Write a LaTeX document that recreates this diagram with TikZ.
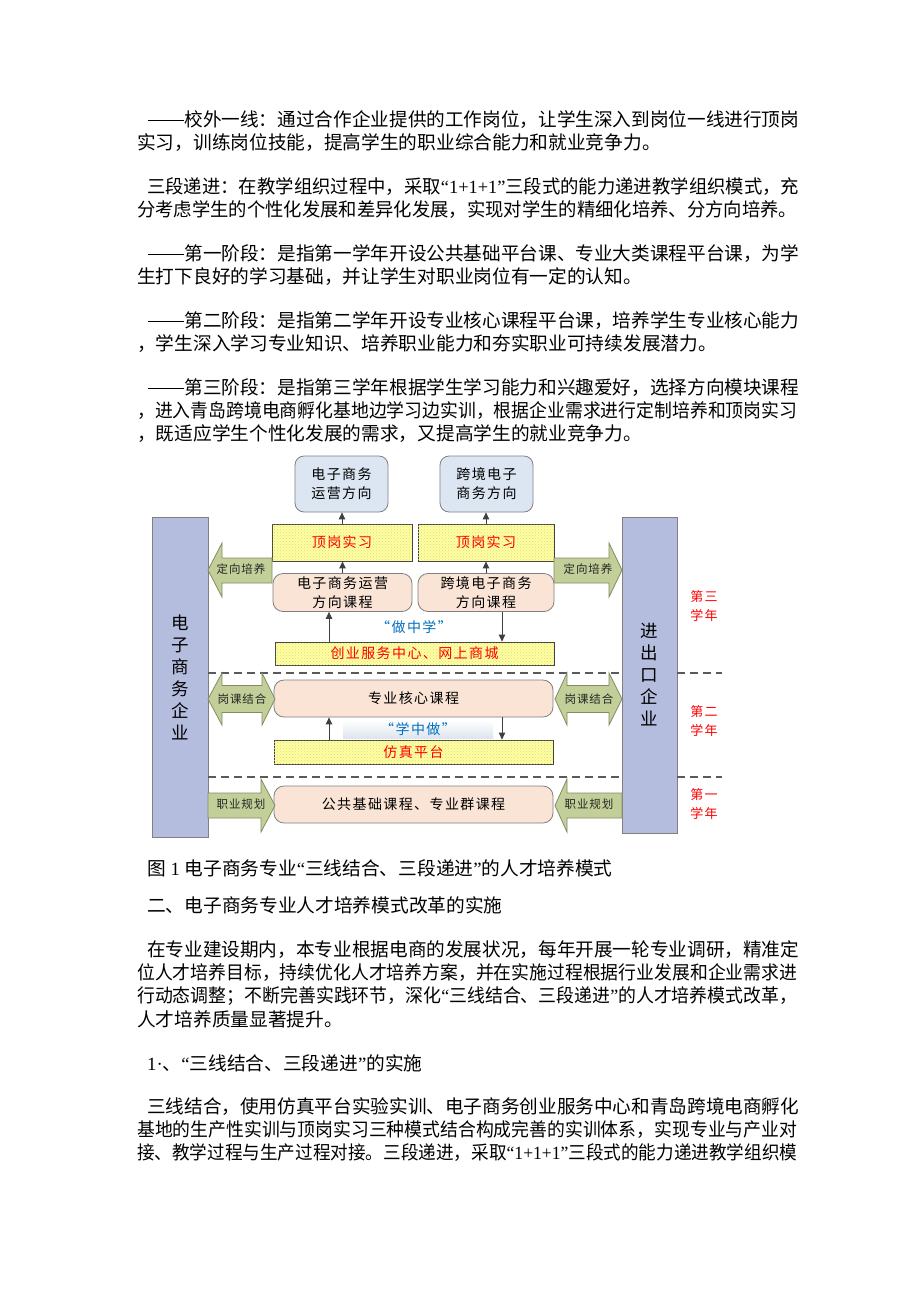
\documentclass[tikz,border=0pt]{standalone}
\usepackage{graphicx}
\usepackage{fontspec}
\setmainfont{Noto Sans CJK SC}
\newfontfamily\lat{Liberation Serif}
\newfontfamily\dg[LetterSpace=10]{Noto Sans CJK SC}
\newfontfamily\dgs[LetterSpace=8]{Noto Sans CJK SC}
\usetikzlibrary{patterns,arrows.meta,calc}
\newcommand\jline[2]{\resizebox{#1pt}{\height}{#2}}
\newcommand\dd{\makebox[2em][c]{\rule[0.34em]{1.92em}{0.05em}}}
\definecolor{bord}{RGB}{128,128,128}
\definecolor{topblue}{RGB}{220,230,242}
\definecolor{yel}{RGB}{255,255,160}
\definecolor{yeldot}{RGB}{218,218,140}
\definecolor{peachc}{RGB}{250,228,214}
\definecolor{colc}{RGB}{181,189,222}
\definecolor{gfill}{RGB}{195,207,152}
\definecolor{gbord}{RGB}{130,140,100}
\definecolor{arrc}{RGB}{64,64,64}
\definecolor{dashc}{RGB}{90,90,90}
\definecolor{bluet}{RGB}{0,112,192}
\definecolor{redt}{RGB}{255,0,0}
\definecolor{xzlo}{RGB}{222,229,238}
\begin{document}
\begin{tikzpicture}[x=1pt,y=-1pt,
  txt/.style={anchor=west, inner sep=0pt, font=\fontsize{18.7}{19}\selectfont},
  topbox/.style={draw=bord, line width=0.8pt, fill=topblue, rounded corners=9pt, minimum width=93pt, minimum height=56pt, inner sep=0pt, align=center, font=\fontsize{14}{19}\selectfont\dg},
  yelbox/.style={draw=arrc, line width=0.8pt, fill=yel, postaction={pattern=crosshatch dots, pattern color=yeldot}, inner sep=0pt, text=redt, font=\fontsize{14}{18}\selectfont\dg},
  peach/.style={draw=bord, line width=0.8pt, fill=peachc, rounded corners=10pt, inner sep=0pt, align=center, font=\fontsize{14}{19}\selectfont\dg},
  colbox/.style={draw=bord, line width=0.9pt, fill=colc, inner sep=0pt, align=center, font=\fontsize{17.5}{22}\selectfont},
  garrow/.style={draw=gbord, line width=0.8pt, fill=gfill, line join=miter},
  glab/.style={inner sep=0pt, font=\fontsize{11.5}{11.5}\selectfont\dgs, text=black!85},
  yr/.style={inner sep=0pt, align=center, text=redt, font=\fontsize{13}{19}\selectfont\dg},
  conn/.style={draw=arrc, line width=0.9pt, -{Triangle[length=7pt,width=6.5pt]}},
  dashln/.style={draw=dashc, line width=1.1pt, dash pattern=on 8pt off 5pt}
]
\useasboundingbox (0,0) rectangle (920,1302);
\fill[white] (0,0) rectangle (920,1302);

% ---------- body text, top ----------
\node[txt] (p1a) at (147,120) {\jline{652}{\dd 校外一线：通过合作企业提供的工作岗位，让学生深入到岗位一线进行顶岗}};
\node[txt] (p1b) at (137,143) {实习，训练岗位技能，提高学生的职业综合能力和就业竞争力。};
\node[txt] (p2a) at (147,187) {\jline{652}{三段递进：在教学组织过程中，采取{\lat “1+1+1”}三段式的能力递进教学组织模式，充}};
\node[txt] (p2b) at (137,210) {\jline{660}{分考虑学生的个性化发展和差异化发展，实现对学生的精细化培养、分方向培养。}};
\node[txt] (p3a) at (147,254) {\jline{652}{\dd 第一阶段：是指第一学年开设公共基础平台课、专业大类课程平台课，为学}};
\node[txt] (p3b) at (137,277) {生打下良好的学习基础，并让学生对职业岗位有一定的认知。};
\node[txt] (p4a) at (147,321) {\jline{652}{\dd 第二阶段：是指第二学年开设专业核心课程平台课，培养学生专业核心能力}};
\node[txt] (p4b) at (137,344) {，学生深入学习专业知识、培养职业能力和夯实职业可持续发展潜力。};
\node[txt] (p5a) at (147,388) {\jline{652}{\dd 第三阶段：是指第三学年根据学生学习能力和兴趣爱好，选择方向模块课程}};
\node[txt] (p5b) at (137,411) {\jline{660}{，进入青岛跨境电商孵化基地边学习边实训，根据企业需求进行定制培养和顶岗实习}};
\node[txt] (p5c) at (137,434) {，既适应学生个性化发展的需求，又提高学生的就业竞争力。};

% ---------- diagram ----------
\node[colbox, minimum width=56pt, minimum height=320pt] (colL) at (180,677) {电\\子\\商\\务\\企\\业};
\node[colbox, minimum width=55pt, minimum height=316pt] (colR) at (649.5,675) {进\\出\\口\\企\\业};

\node[topbox] (topL) at (341.5,484) {电子商务\\运营方向};
\node[topbox] (topR) at (486.5,484) {跨境电子\\商务方向};

\node[yelbox, minimum width=140pt, minimum height=37pt] (dgL) at (342,542.5) {顶岗实习};
\node[yelbox, minimum width=136pt, minimum height=37pt] (dgR) at (486,542.5) {顶岗实习};

\node[peach, minimum width=139pt, minimum height=38pt] (kcL) at (342.5,592.5) {电子商务运营\\方向课程};
\node[peach, minimum width=136pt, minimum height=38pt] (kcR) at (486,592.5) {跨境电子商务\\方向课程};

\node[inner sep=0pt, text=bluet, font=\fontsize{14}{14}\selectfont\dg] (zzx) at (414,627) {“做中学”};

\node[yelbox, minimum width=279pt, minimum height=23pt] (cy) at (414.5,653.5) {创业服务中心、网上商城};

% dashed separators
\coordinate (d1) at (0,673);
\coordinate (d2) at (0,777);
\coordinate (dend) at (722,0);
\draw[dashln] (colL.east |- d1) -- (colR.west |- d1);
\draw[dashln] (colR.east |- d1) -- (dend |- d1);
\draw[dashln] (colL.east |- d2) -- (colR.west |- d2);
\draw[dashln] (colR.east |- d2) -- (dend |- d2);

\node[peach, minimum width=279pt, minimum height=37pt] (zx) at (413.5,698.5) {专业核心课程};
\node[inner sep=0pt, minimum width=150pt, minimum height=18pt, top color=white, bottom color=xzlo, text=bluet, font=\fontsize{14}{14}\selectfont\dg] (xzz) at (418,729) {“学中做”};
\node[yelbox, minimum width=279pt, minimum height=24pt] (fz) at (413.5,752) {仿真平台};
\node[peach, minimum width=279pt, minimum height=37pt] (gg) at (413.5,804.5) {公共基础课程、专业群课程};

% green arrows: 定向培养
\path[garrow] (208,570) -- (222,543) -- (222,558) -- (272,558) -- (272,583) -- (222,583) -- (222,597) -- cycle;
\path[garrow] (622,570) -- (609,543) -- (609,558) -- (554,558) -- (554,583) -- (609,583) -- (609,597) -- cycle;
\node[glab] (a1) at (241,569.5) {定向培养};
\node[glab] (a2) at (588,569.5) {定向培养};

% green double arrows: 岗课结合
\path[garrow] (208,699) -- (222,673) -- (222,685.5) -- (262,685.5) -- (262,673) -- (275,699) -- (262,725) -- (262,712.5) -- (222,712.5) -- (222,725) -- cycle;
\path[garrow] (555,699) -- (567,673) -- (567,685.5) -- (609,685.5) -- (609,673) -- (622,699) -- (609,725) -- (609,712.5) -- (567,712.5) -- (567,725) -- cycle;
\node[glab] (b1) at (242,699) {岗课结合};
\node[glab] (b2) at (589,699) {岗课结合};

% green arrows: 职业规划
\path[garrow] (275,805.5) -- (261,779) -- (261,793) -- (208,793) -- (208,818) -- (261,818) -- (261,832) -- cycle;
\path[garrow] (555,805.5) -- (567,779) -- (567,793) -- (622,793) -- (622,818) -- (567,818) -- (567,832) -- cycle;
\node[glab] (c1) at (241,804) {职业规划};
\node[glab] (c2) at (589,804) {职业规划};

% small connectors
\draw[conn] (dgL.north) -- (dgL.north |- topL.south);
\draw[conn] (dgR.north) -- (dgR.north |- topR.south);
\draw[conn] (kcL.north) -- (kcL.north |- dgL.south);
\draw[conn] (kcR.north) -- (kcR.north |- dgR.south);
\coordinate (ux) at (329,0);
\coordinate (dx) at (502,0);
\draw[conn] (ux |- cy.north) -- (ux |- kcL.south);
\draw[conn] (dx |- kcR.south) -- (dx |- cy.north);
\draw[conn] (ux |- fz.north) -- (ux |- zx.south);
\draw[conn] (dx |- zx.south) -- (dx |- fz.north);

% year labels
\node[yr] (y3) at (704,606.5) {第三\\学年};
\node[yr] (y2) at (704,721.5) {第二\\学年};
\node[yr] (y1) at (704,804) {第一\\学年};

% ---------- body text, bottom ----------
\node[txt] (cap) at (147,868) {图{\lat\ 1\ }电子商务专业{\lat “}三线结合、三段递进{\lat ”}的人才培养模式};
\node[txt] (h1) at (147,905) {二、电子商务专业人才培养模式改革的实施};
\node[txt] (p6a) at (147,950) {\jline{652}{在专业建设期内，本专业根据电商的发展状况，每年开展一轮专业调研，精准定}};
\node[txt] (p6b) at (137,973) {\jline{660}{位人才培养目标，持续优化人才培养方案，并在实施过程根据行业发展和企业需求进}};
\node[txt] (p6c) at (137,996) {\jline{660}{行动态调整；不断完善实践环节，深化{\lat “}三线结合、三段递进{\lat ”}的人才培养模式改革，}};
\node[txt] (p6d) at (137,1019) {人才培养质量显著提升。};
\node[txt] (h2) at (147,1063) {{\lat 1·}、{\lat “}三线结合、三段递进{\lat ”}的实施};
\node[txt] (p7a) at (147,1107) {\jline{652}{三线结合，使用仿真平台实验实训、电子商务创业服务中心和青岛跨境电商孵化}};
\node[txt] (p7b) at (137,1130) {\jline{660}{基地的生产性实训与顶岗实习三种模式结合构成完善的实训体系，实现专业与产业对}};
\node[txt] (p7c) at (137,1153) {\jline{660}{接、教学过程与生产过程对接。三段递进，采取{\lat “1+1+1”}三段式的能力递进教学组织模}};
\end{tikzpicture}
\end{document}
